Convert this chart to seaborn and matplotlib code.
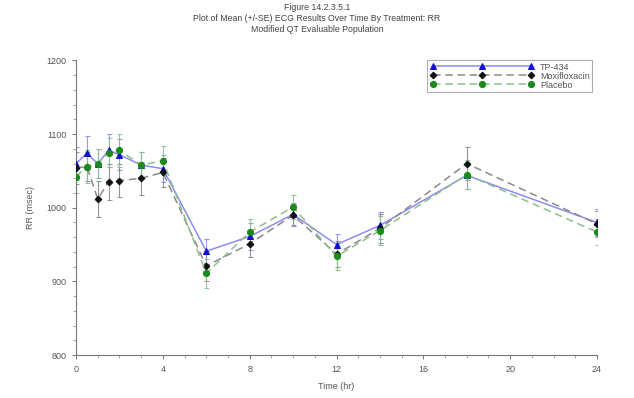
import matplotlib
matplotlib.use("Agg")
import matplotlib.pyplot as plt
import seaborn as sns
import numpy as np
import pandas as pd
from matplotlib.ticker import MultipleLocator

# ---- data ----
time_hr = [0, 0.5, 1, 1.5, 2, 3, 4, 6, 8, 10, 12, 14, 18, 24]
tp434 = [1060, 1074, 1060, 1078, 1072, 1058, 1053, 941, 961, 991, 950, 976, 1044, 980]
tp434_se = [22, 23, 20, 22, 21, 18, 18, 17, 18, 15, 15, 18, 18, 18]
moxi = [1054, 1056, 1012, 1035, 1037, 1040, 1048, 921, 951, 990, 937, 972, 1060, 978]
moxi_se = [22, 20, 24, 24, 23, 22, 20, 20, 18, 15, 18, 20, 22, 18]
placebo = [1042, 1056, 1060, 1075, 1078, 1058, 1064, 911, 967, 1001, 934, 969, 1045, 967]
placebo_se = [22, 22, 20, 20, 22, 18, 20, 20, 18, 16, 18, 20, 20, 18]
series_names = ["TP-434", "Moxifloxacin", "Placebo"]

title_lines = ["Figure 14.2.3.5.1",
               "Plot of Mean (+/-SE) ECG Results Over Time By Treatment: RR",
               "Modified QT Evaluable Population"]

sns.set_theme(style="white")
plt.rcParams['font.family'] = ['Liberation Sans', 'DejaVu Sans']

fig = plt.figure(figsize=(6.34, 3.98), dpi=100)
ax = fig.add_axes([0.1199, 0.108, 0.8218, 0.740])

styles = [
    dict(line="#8c8cf5", mk="#1010d0", marker="^", ls="-", ms=4.8),
    dict(line="#8a8a8a", mk="#111111", marker="D", ls=(0, (5, 3)), ms=3.4),
    dict(line="#8cc08c", mk="#1a8a1a", marker="o", ls=(0, (5, 3)), ms=4.4),
]
vals = [tp434, moxi, placebo]
ses = [tp434_se, moxi_se, placebo_se]

for name, v, se, st in zip(series_names, vals, ses, styles):
    df = pd.DataFrame({"Time": time_hr, "RR": v})
    ax.errorbar(time_hr, v, yerr=se, fmt="none", ecolor=st["line"], elinewidth=0.8,
                capsize=1.8, capthick=0.8, alpha=0.9, zorder=2)
    sns.lineplot(data=df, x="Time", y="RR", ax=ax, color=st["line"], linestyle=st["ls"],
                 linewidth=1.1, marker=st["marker"], markersize=st["ms"],
                 markerfacecolor=st["mk"], markeredgecolor=st["mk"], label=name, zorder=3)

ax.set_xlim(0, 24)
ax.set_ylim(800, 1200)
ax.xaxis.set_major_locator(MultipleLocator(4))
ax.xaxis.set_minor_locator(MultipleLocator(1))
ax.yaxis.set_major_locator(MultipleLocator(100))
ax.yaxis.set_minor_locator(MultipleLocator(20))

for s in ["top", "right"]:
    ax.spines[s].set_visible(False)
for s in ["left", "bottom"]:
    ax.spines[s].set_color("#777777")
    ax.spines[s].set_linewidth(0.8)

ax.tick_params(axis="both", which="major", direction="out", length=3, width=0.7,
               color="#777777", labelsize=6.5, labelcolor="#555555", bottom=True, left=True, pad=4)
ax.tick_params(axis="both", which="minor", direction="out", length=2, width=0.6,
               color="#999999", bottom=True, left=True)

ax.set_xlabel("Time (hr)", fontsize=6.5, color="#555555", labelpad=6)
ax.set_ylabel("RR (msec)", fontsize=6.5, color="#555555", labelpad=8)

fig.text(0.5, 0.992, "\n".join(title_lines), ha="center", va="top", fontsize=6.3,
         color="#444444", linespacing=1.3)

leg = ax.legend(loc="upper right", numpoints=3, handlelength=11.5, fontsize=6.5,
                frameon=True, fancybox=False, borderpad=0.3, labelspacing=0.0,
                handletextpad=0.7, borderaxespad=0.1, bbox_to_anchor=(0.993, 1.005))
leg.get_frame().set_edgecolor("#999999")
leg.get_frame().set_linewidth(0.8)
for t in leg.get_texts():
    t.set_color("#555555")

fig.savefig("out.png", dpi=100)
